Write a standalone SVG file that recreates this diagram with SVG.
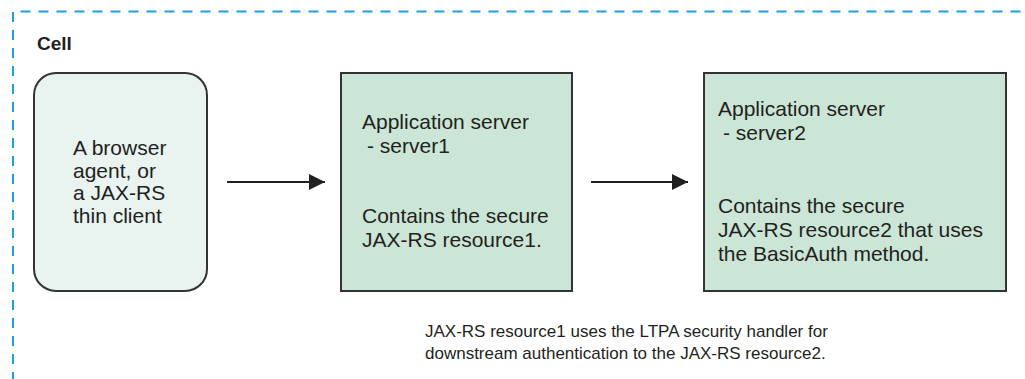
<svg xmlns="http://www.w3.org/2000/svg" width="1025" height="379" viewBox="0 0 1025 379">
<style>
text{font-family:"Liberation Sans",Arial,sans-serif;fill:#231f20}
.t{font-size:21px}
.s{font-size:17px}
.cell{font-size:19px;font-weight:bold}
.box{fill:#cbe6d6;stroke:#333;stroke-width:2}
.client{fill:#e9f3f0;stroke:#333;stroke-width:2}
.conn{stroke:#231f20;stroke-width:2;fill:none}
</style>
<defs>
<marker id="ah" markerWidth="16" markerHeight="16" refX="16" refY="8" orient="auto" markerUnits="userSpaceOnUse">
<path d="M0,0 L16,8 L0,16 Z" fill="#231f20"/>
</marker>
</defs>
<rect width="1025" height="379" fill="#fff"/>
<g id="cell">
<path d="M13,400 L13,11.5 L1040,11.5" fill="none" stroke="#1f9fe0" stroke-width="2" stroke-dasharray="10,8"/>
<text class="cell" x="37" y="50">Cell</text>
</g>
<g id="client">
<rect class="client" x="34" y="73" width="173" height="218" rx="22" ry="22"/>
<text class="t" x="73" y="155">A browser</text>
<text class="t" x="73" y="178">agent, or</text>
<text class="t" x="73" y="200">a JAX-RS</text>
<text class="t" x="73" y="223">thin client</text>
</g>
<g id="server1">
<rect class="box" x="341" y="73" width="231" height="218"/>
<text class="t" x="362" y="129">Application server</text>
<text class="t" x="367" y="153">- server1</text>
<text class="t" x="362" y="223">Contains the secure</text>
<text class="t" x="362" y="247">JAX-RS resource1.</text>
</g>
<g id="server2">
<rect class="box" x="704" y="73" width="302" height="218"/>
<text class="t" x="718" y="116">Application server</text>
<text class="t" x="723" y="140">- server2</text>
<text class="t" x="718" y="213">Contains the secure</text>
<text class="t" x="718" y="237">JAX-RS resource2 that uses</text>
<text class="t" x="718" y="261">the BasicAuth method.</text>
</g>
<g id="note">
<text class="s" x="425" y="337">JAX-RS resource1 uses the LTPA security handler for</text>
<text class="s" x="425" y="359">downstream authentication to the JAX-RS resource2.</text>
</g>
<g id="connectors">
<line class="conn" x1="227" y1="182" x2="325" y2="182" marker-end="url(#ah)"/>
<line class="conn" x1="591" y1="182" x2="688" y2="182" marker-end="url(#ah)"/>
</g>
</svg>
